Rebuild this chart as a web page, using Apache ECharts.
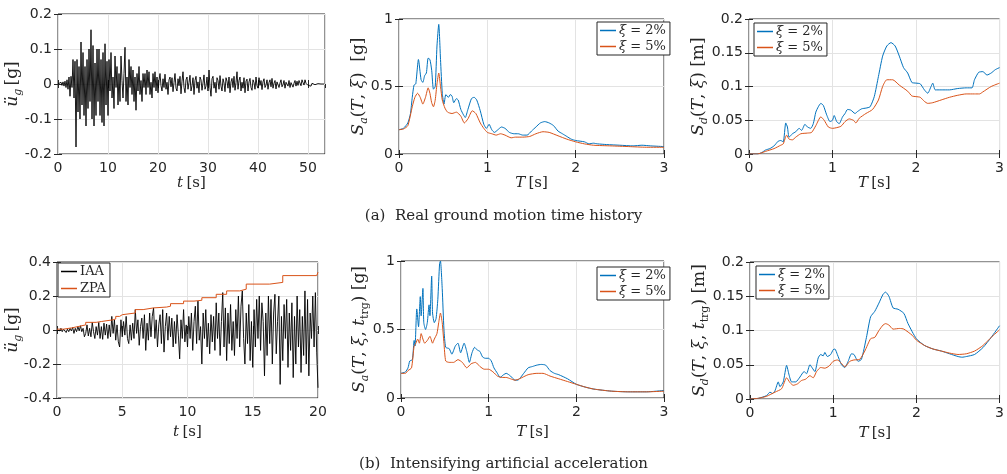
<!DOCTYPE html>
<html><head><meta charset="utf-8">
<script src="https://cdn.jsdelivr.net/npm/echarts@6/dist/echarts.min.js"></script>
<style>html,body{margin:0;padding:0;background:#fff}#c{width:1007px;height:474px}</style>
</head><body><div id="c"></div>
<script>
// ---------- DATA ----------
// (a) real ground motion, sampled every dtA seconds [g]
const dtA = 0.2;
const accA = [
0,0.003,-0.002,0.005,-0.004,0.006,-0.006,0.008,-0.01,0.012,
-0.015,0.02,-0.035,0.022,-0.01,0.07,-0.04,0.065,-0.18,0.07,
-0.08,0.05,-0.1,0.12,-0.06,0.09,-0.09,0.05,-0.12,0.07,
-0.07,0.1,-0.05,0.155,-0.1,0.11,-0.12,0.06,-0.09,0.1,
-0.05,0.1,-0.09,0.07,-0.11,0.09,-0.12,0.115,-0.06,0.065,
-0.09,0.07,-0.02,0.09,-0.04,0.02,-0.07,0.08,-0.01,0.05,
-0.06,0.03,-0.05,0.08,0.01,-0.04,0.03,0.105,-0.05,0.02,
-0.06,0.07,-0.01,0.05,-0.03,0.04,-0.05,0.02,-0.075,0.03,
-0.02,0.05,-0.03,0.01,-0.05,0.03,-0.01,0.03,-0.03,0.04,
-0.01,0.035,-0.03,0.005,-0.04,0.03,-0.01,0.035,-0.02,0.02,
-0.025,0.01,0.03,-0.005,-0.02,0.015,-0.01,0.028,-0.015,0.005,
-0.03,0.012,0.02,-0.008,0.018,-0.022,0.004,0.03,-0.012,-0.02,
0.015,-0.005,0.022,-0.028,0.008,0.035,-0.01,-0.025,0.012,0.02,
-0.015,0.004,0.025,-0.02,-0.005,0.018,-0.03,0.01,0.022,-0.012,
0.006,-0.025,0.02,0.012,-0.018,0.003,0.026,-0.015,-0.006,0.02,
-0.02,0.04,-0.01,-0.035,0.015,0.022,-0.012,0.005,-0.025,0.018,
0.01,-0.015,0.024,-0.006,-0.02,0.015,0.003,-0.022,0.018,0.008,
-0.012,0.02,-0.025,0.006,0.016,-0.01,0.022,-0.018,0.004,0.035,
-0.015,0.01,0.02,-0.02,0.005,-0.012,0.018,-0.025,0.008,0.014,
-0.02,0.006,0.016,-0.01,-0.018,0.012,0.004,-0.015,0.02,-0.005,
-0.012,0.018,-0.004,0.01,-0.016,0.006,0.015,-0.01,-0.003,0.012,
-0.015,0.004,0.012,-0.008,0.016,-0.012,0.002,0.01,-0.014,0.006,
0.008,-0.01,0.003,0.012,-0.008,-0.002,0.01,-0.012,0.005,0.008,
-0.006,0.01,-0.01,0.004,0.008,-0.009,0.002,0.01,-0.006,0.008,
-0.004,0.01,0.006,-0.005,0.012,0.004,-0.003,0.012,0.002,0.006,
-0.004,-0.009,-0.002,-0.006,0.002,-0.003,0.002,-0.002,0.002,-0.001,
0.001,-0.001,0.001,0,0,0,0
];
// (a) pseudo-acceleration spectra [g]
const saA_T2 = [0,0.05,0.1,0.13,0.15,0.17,0.19,0.22,0.25,0.27,0.29,0.31,0.33,0.35,0.37,0.39,0.41,0.43,0.45,0.47,0.49,0.51,0.53,0.56,0.58,0.6,0.62,0.65,0.67,0.7,0.73,0.75,0.78,0.82,0.85,0.88,0.92,0.96,0.99,1.02,1.05,1.08,1.12,1.16,1.2,1.25,1.3,1.35,1.4,1.45,1.5,1.55,1.6,1.65,1.7,1.75,1.8,1.85,1.9,1.95,2,2.1,2.15,2.2,2.25,2.35,2.5,2.65,2.75,2.85,3];
const saA_2  = [0.18,0.19,0.23,0.3,0.42,0.51,0.52,0.7,0.55,0.53,0.58,0.6,0.71,0.7,0.62,0.48,0.5,0.8,0.96,0.7,0.45,0.37,0.44,0.42,0.44,0.43,0.38,0.41,0.4,0.33,0.29,0.27,0.33,0.41,0.42,0.4,0.32,0.22,0.19,0.22,0.18,0.16,0.18,0.2,0.19,0.16,0.15,0.15,0.14,0.14,0.17,0.2,0.23,0.24,0.23,0.21,0.17,0.15,0.13,0.11,0.1,0.09,0.075,0.08,0.075,0.07,0.065,0.06,0.065,0.06,0.055];
const saA_T5 = [0,0.05,0.1,0.15,0.18,0.21,0.24,0.27,0.3,0.33,0.35,0.37,0.39,0.41,0.43,0.45,0.47,0.49,0.52,0.55,0.6,0.65,0.7,0.74,0.78,0.83,0.87,0.92,0.96,1,1.05,1.1,1.15,1.2,1.27,1.32,1.4,1.48,1.55,1.63,1.7,1.8,1.9,2,2.1,2.2,2.4,2.6,2.8,3];
const saA_5  = [0.18,0.185,0.21,0.35,0.42,0.45,0.42,0.37,0.42,0.49,0.45,0.38,0.35,0.4,0.52,0.6,0.5,0.4,0.34,0.31,0.3,0.31,0.28,0.23,0.26,0.32,0.3,0.23,0.19,0.16,0.15,0.14,0.15,0.14,0.12,0.125,0.125,0.13,0.15,0.165,0.16,0.135,0.11,0.09,0.075,0.065,0.06,0.055,0.05,0.05];
// (a) displacement spectra [m]
const sdA_T2 = [0,0.1,0.15,0.2,0.25,0.3,0.35,0.38,0.41,0.44,0.46,0.48,0.52,0.56,0.6,0.63,0.67,0.7,0.74,0.77,0.8,0.83,0.86,0.89,0.93,0.97,1,1.02,1.05,1.08,1.12,1.15,1.18,1.22,1.27,1.3,1.35,1.4,1.45,1.5,1.55,1.6,1.65,1.7,1.75,1.8,1.85,1.9,1.95,2,2.05,2.1,2.14,2.18,2.2,2.23,2.3,2.4,2.5,2.6,2.67,2.7,2.75,2.8,2.85,2.9,2.95,3];
const sdA_2  = [0,0,0.002,0.006,0.008,0.012,0.019,0.02,0.018,0.046,0.04,0.025,0.03,0.033,0.038,0.035,0.044,0.04,0.038,0.045,0.062,0.07,0.075,0.072,0.058,0.048,0.05,0.057,0.048,0.045,0.055,0.06,0.066,0.065,0.06,0.063,0.067,0.068,0.07,0.085,0.115,0.145,0.16,0.165,0.16,0.145,0.128,0.12,0.106,0.105,0.104,0.095,0.09,0.1,0.105,0.095,0.095,0.095,0.097,0.098,0.098,0.11,0.121,0.122,0.117,0.12,0.125,0.128];
const sdA_T5 = [0,0.1,0.2,0.3,0.38,0.41,0.45,0.48,0.52,0.56,0.62,0.7,0.75,0.8,0.86,0.9,0.95,1,1.1,1.15,1.2,1.25,1.28,1.32,1.4,1.48,1.55,1.6,1.65,1.72,1.8,1.9,1.95,2,2.05,2.1,2.14,2.2,2.3,2.4,2.5,2.6,2.7,2.76,2.8,2.9,3];
const sdA_5  = [0,0,0.004,0.008,0.013,0.015,0.028,0.022,0.021,0.025,0.03,0.031,0.032,0.042,0.055,0.05,0.04,0.038,0.041,0.048,0.052,0.05,0.046,0.053,0.06,0.066,0.08,0.1,0.11,0.11,0.102,0.093,0.086,0.085,0.084,0.078,0.075,0.076,0.08,0.084,0.087,0.089,0.089,0.089,0.092,0.1,0.105];

// (b) intensifying artificial acceleration, sampled every dtB seconds [g]
const dtB = 0.1;
const accB = [
0,0.005,-0.005,0.01,-0.01,0.005,0.01,-0.015,0.005,-0.01,
0.01,-0.005,0.015,-0.02,0.01,-0.01,0.02,-0.005,0.025,-0.01,
0.01,-0.04,-0.02,0.03,-0.035,0.01,-0.04,0.045,-0.01,-0.05,
0.02,-0.03,0.045,-0.05,0.02,-0.055,0.04,-0.03,0.035,-0.05,
0.03,-0.04,0.08,-0.02,0.06,-0.06,0.03,-0.07,-0.1,0.06,
-0.04,0.05,-0.03,0.08,-0.05,-0.08,0.03,-0.06,0.04,-0.05,
0.12,-0.02,0.06,-0.09,0.02,0.07,-0.05,0.09,-0.12,0.04,
-0.06,0.1,-0.04,0.08,0.13,-0.05,0.06,-0.1,0.03,0.09,
-0.08,0.12,-0.13,0.02,0.1,-0.06,0.08,-0.04,0.07,-0.1,
0.05,-0.08,0.09,-0.03,-0.17,0.06,-0.05,0.12,-0.07,0.03,
-0.1,0.08,-0.05,0.1,-0.12,0.05,0.14,-0.08,0.17,-0.06,
0.02,-0.2,0.1,-0.05,0.12,-0.1,0.04,-0.14,0.09,-0.07,
0.08,-0.12,0.16,-0.05,0.1,-0.15,0.05,0.22,-0.1,0.13,
-0.18,0.1,-0.08,0.15,-0.12,0.05,-0.15,0.12,-0.05,0.2,
-0.1,0.14,0.23,-0.05,-0.2,0.1,-0.08,0.15,-0.18,0.05,
-0.22,0.12,-0.1,0.18,-0.05,0.2,-0.12,0.16,0.05,-0.27,
0.1,-0.15,0.2,-0.08,0.18,-0.2,0.1,0.21,-0.14,0.05,
0.2,-0.32,0.08,-0.18,0.15,-0.05,0.18,-0.22,0.1,-0.12,
0.16,-0.28,0.08,-0.2,0.2,-0.1,0.12,-0.25,0.08,-0.15,
0.23,-0.2,0.18,-0.27,0.1,-0.05,0.2,-0.1,0.22,-0.13,
-0.34
];
// (b) zero-period acceleration envelope (step function)
const zpaT = [0,0.5,1.1,1.6,2.2,3.0,3.4,4.3,4.5,4.8,5.0,6.0,6.6,7.4,8.4,8.7,9.7,10.5,11.1,12.2,13.0,14.0,14.5,16.3,17.3,19.9,20];
const zpaV = [0.005,0.012,0.02,0.03,0.045,0.05,0.06,0.065,0.08,0.09,0.1,0.12,0.13,0.135,0.14,0.155,0.17,0.175,0.19,0.21,0.23,0.24,0.27,0.28,0.32,0.32,0.34];
// (b) pseudo-acceleration spectra [g]
const saB_T2 = [0,0.05,0.08,0.1,0.13,0.15,0.16,0.18,0.2,0.22,0.23,0.25,0.26,0.28,0.3,0.32,0.33,0.35,0.36,0.38,0.4,0.42,0.44,0.45,0.47,0.49,0.51,0.55,0.58,0.62,0.65,0.68,0.72,0.75,0.78,0.81,0.84,0.87,0.9,0.93,0.96,1,1.03,1.06,1.1,1.13,1.17,1.2,1.25,1.3,1.33,1.4,1.45,1.5,1.55,1.6,1.65,1.7,1.75,1.8,1.9,2,2.1,2.2,2.4,2.6,2.8,3];
const saB_2  = [0.18,0.19,0.22,0.27,0.28,0.42,0.38,0.65,0.52,0.74,0.6,0.8,0.55,0.5,0.55,0.68,0.6,0.89,0.62,0.55,0.58,0.72,0.98,1.0,0.8,0.5,0.37,0.36,0.32,0.38,0.4,0.33,0.4,0.34,0.26,0.33,0.37,0.35,0.34,0.3,0.29,0.29,0.27,0.22,0.18,0.15,0.17,0.18,0.16,0.13,0.13,0.18,0.22,0.23,0.24,0.245,0.24,0.2,0.18,0.17,0.14,0.1,0.08,0.065,0.05,0.045,0.045,0.055];
const saB_T5 = [0,0.05,0.08,0.12,0.15,0.17,0.19,0.21,0.23,0.25,0.27,0.3,0.33,0.36,0.38,0.41,0.43,0.45,0.47,0.49,0.51,0.55,0.6,0.65,0.7,0.75,0.8,0.85,0.9,0.95,1,1.05,1.1,1.15,1.2,1.25,1.3,1.35,1.45,1.55,1.62,1.7,1.8,1.9,2,2.1,2.2,2.4,2.6,2.8,3];
const saB_5  = [0.18,0.18,0.2,0.22,0.38,0.4,0.43,0.4,0.47,0.43,0.4,0.42,0.45,0.4,0.43,0.47,0.55,0.62,0.55,0.4,0.27,0.26,0.26,0.28,0.26,0.22,0.25,0.26,0.23,0.21,0.21,0.19,0.16,0.15,0.15,0.14,0.13,0.14,0.17,0.18,0.18,0.16,0.14,0.12,0.1,0.08,0.065,0.05,0.045,0.045,0.05];
// (b) displacement spectra [m]
const sdB_T2 = [0,0.1,0.2,0.24,0.27,0.3,0.34,0.36,0.4,0.44,0.47,0.5,0.55,0.6,0.65,0.68,0.72,0.75,0.78,0.82,0.85,0.88,0.9,0.93,0.97,1,1.02,1.05,1.1,1.14,1.18,1.22,1.25,1.3,1.34,1.4,1.45,1.5,1.55,1.6,1.63,1.67,1.72,1.78,1.85,1.9,2,2.1,2.2,2.3,2.4,2.5,2.55,2.6,2.7,2.8,2.9,3];
const sdB_2  = [0,0.001,0.005,0.01,0.008,0.012,0.025,0.018,0.025,0.049,0.035,0.025,0.025,0.032,0.04,0.037,0.05,0.045,0.04,0.06,0.065,0.063,0.068,0.062,0.065,0.072,0.073,0.065,0.05,0.046,0.055,0.066,0.065,0.055,0.058,0.09,0.12,0.128,0.14,0.153,0.156,0.15,0.133,0.131,0.125,0.11,0.088,0.078,0.073,0.07,0.066,0.062,0.061,0.062,0.065,0.075,0.09,0.107];
const sdB_T5 = [0,0.1,0.2,0.3,0.38,0.44,0.48,0.52,0.57,0.62,0.67,0.72,0.76,0.8,0.85,0.9,0.95,1,1.05,1.1,1.14,1.2,1.25,1.32,1.38,1.45,1.5,1.55,1.6,1.63,1.67,1.72,1.8,1.85,1.95,2,2.1,2.2,2.3,2.4,2.5,2.6,2.7,2.8,2.9,3];
const sdB_5  = [0,0.001,0.004,0.01,0.015,0.031,0.024,0.02,0.022,0.027,0.029,0.034,0.031,0.04,0.046,0.045,0.048,0.055,0.057,0.052,0.047,0.055,0.057,0.058,0.07,0.088,0.09,0.1,0.108,0.11,0.108,0.102,0.103,0.102,0.093,0.086,0.078,0.073,0.07,0.067,0.065,0.066,0.07,0.078,0.09,0.101];

// ---------- STYLE ----------
const BLUE = '#0072BD', ORANGE = '#D95319', INK = '#262626';
const MF = 'DejaVu Serif', TF = 'DejaVu Sans';
function mkRich(fs) {
  const sub = Math.round(fs * 0.66);
  return {
    i:  {fontFamily: MF, fontStyle: 'italic', fontSize: fs, lineHeight: fs + 5, color: INK, verticalAlign: 'middle'},
    r:  {fontFamily: MF, fontSize: fs, lineHeight: fs + 5, color: INK, verticalAlign: 'middle'},
    s:  {fontFamily: MF, fontStyle: 'italic', fontSize: sub, lineHeight: sub, padding: [Math.round(fs * 0.66), 0, 0, 0], color: INK, verticalAlign: 'top'},
    sr: {fontFamily: MF, fontSize: sub, lineHeight: sub, padding: [Math.round(fs * 0.66), 0, 0, 0], color: INK, verticalAlign: 'top'}
  };
}
const richX = mkRich(15), richY = mkRich(17);
const pair = (T, V) => T.map((t, k) => [t, V[k]]);
const grids = [
  {left: 58,  top: 14,  width: 267, height: 140},
  {left: 399, top: 19,  width: 265, height: 135},
  {left: 749, top: 19,  width: 256, height: 135},
  {left: 57,  top: 262, width: 261, height: 136},
  {left: 401, top: 261, width: 263, height: 137},
  {left: 750, top: 262, width: 255, height: 137}
].map(g => Object.assign({show: true, borderColor: INK, borderWidth: 1, backgroundColor: '#fff'}, g));

const xSpec = [[0, 53.4, 10, '{i|t} {r|[s]}', 19], [0, 3, 1, '{i|T} {r|[s]}', 19], [0, 3, 1, '{i|T} {r|[s]}', 19],
               [0, 20, 5, '{i|t} {r|[s]}', 24], [0, 3, 1, '{i|T} {r|[s]}', 24], [0, 3, 1, '{i|T} {r|[s]}', 24]];
const ySpec = [[-0.2, 0.2, 0.1, '{i|ü}{s|g} {r|[g]}', 34],
               [0, 1, 0.5, '{i|S}{s|a}{r|(}{i|T}{r|, }{i|ξ}{r|)  [g]}', 29],
               [0, 0.2, 0.05, '{i|S}{s|d}{r|(}{i|T}{r|, }{i|ξ}{r|) [m]}', 39],
               [-0.4, 0.4, 0.2, '{i|ü}{s|g} {r|[g]}', 33],
               [0, 1, 0.5, '{i|S}{s|a}{r|(}{i|T}{r|, }{i|ξ}{r|, }{i|t}{sr|trg}{r|) [g]}', 30],
               [0, 0.2, 0.05, '{i|S}{s|d}{r|(}{i|T}{r|, }{i|ξ}{r|, }{i|t}{sr|trg}{r|) [m]}', 39]];
const tick = {inside: true, length: 4, lineStyle: {color: INK}};
const split = {lineStyle: {color: '#e3e3e3', width: 1}};
const xAxes = [], yAxes = [];
xSpec.forEach(([min, max, interval, name, gap], gi) => {
  xAxes.push({type: 'value', gridIndex: gi, min, max, interval,
    name, nameLocation: 'middle', nameGap: gap, nameTextStyle: {rich: richX},
    axisLine: {show: false}, axisTick: tick,
    axisLabel: {color: INK, fontFamily: TF, fontSize: 14, margin: 7, showMaxLabel: max % interval === 0},
    splitLine: split});
});
ySpec.forEach(([min, max, interval, name, gap], gi) => {
  yAxes.push({type: 'value', gridIndex: gi, min, max, interval,
    name, nameLocation: 'middle', nameGap: gap, nameRotate: 90, nameMoveOverlap: false, nameTextStyle: {rich: richY},
    axisLine: {show: false}, axisTick: tick,
    axisLabel: {color: INK, fontFamily: TF, fontSize: 14, margin: 6},
    splitLine: split});
});
// mirror ticks on top / right edges (MATLAB box style)
xSpec.forEach(([min, max, interval], gi) => {
  xAxes.push({type: 'value', gridIndex: gi, position: 'top', min, max, interval,
    axisLine: {show: false}, axisTick: tick, axisLabel: {show: false}, splitLine: {show: false}});
});
ySpec.forEach(([min, max, interval], gi) => {
  yAxes.push({type: 'value', gridIndex: gi, position: 'right', min, max, interval,
    axisLine: {show: false}, axisTick: tick, axisLabel: {show: false}, splitLine: {show: false}});
});

function ln(name, gi, data, color, extra) {
  return Object.assign({type: 'line', name, xAxisIndex: gi, yAxisIndex: gi, data,
    symbol: 'none', showSymbol: false, smooth: false, animation: false,
    lineStyle: {color, width: 1}, itemStyle: {color}, emphasis: {disabled: true}}, extra || {});
}
const legRich = {
  i: {fontFamily: MF, fontStyle: 'italic', fontSize: 13, color: INK},
  r: {fontFamily: MF, fontSize: 13, color: INK}
};
function leg(left, top, data, gap) {
  return {left, top, orient: 'vertical', data, icon: 'rect', itemWidth: 16, itemHeight: 1.5, itemGap: gap,
    padding: [2, 4, 2, 3], backgroundColor: '#fff', borderColor: INK, borderWidth: 1, borderRadius: 0,
    selectedMode: false,
    textStyle: {rich: legRich, padding: [0, 0, 0, -2]},
    formatter: n => n === 'xi2' ? '{i|ξ}{r| = 2%}' : n === 'xi5' ? '{i|ξ}{r| = 5%}' : '{r|' + n + '}'};
}
const SM = {smooth: 0.2};

const option = {
  animation: false,
  backgroundColor: '#fff',
  grid: grids,
  xAxis: xAxes,
  yAxis: yAxes,
  legend: [
    leg(597, 22, ['xi2', 'xi5'], 3),
    leg(754, 23, ['xi2', 'xi5'], 3),
    leg(58, 263, ['IAA', 'ZPA'], 4),
    leg(597, 267, ['xi2', 'xi5'], 3),
    leg(756, 266, ['xi2', 'xi5'], 3)
  ],
  series: [
    ln('acc', 0, accA.map((v, k) => [k * dtA, v]), '#000', {lineStyle: {color: '#000', width: 0.9}}),
    ln('xi2', 1, pair(saA_T2, saA_2), BLUE, SM),
    ln('xi5', 1, pair(saA_T5, saA_5), ORANGE, SM),
    ln('xi2', 2, pair(sdA_T2, sdA_2), BLUE, SM),
    ln('xi5', 2, pair(sdA_T5, sdA_5), ORANGE, SM),
    ln('IAA', 3, accB.map((v, k) => [k * dtB, v]), '#000', {lineStyle: {color: '#000', width: 0.9}}),
    ln('ZPA', 3, pair(zpaT, zpaV), ORANGE, {step: 'end'}),
    ln('xi2', 4, pair(saB_T2, saB_2), BLUE, SM),
    ln('xi5', 4, pair(saB_T5, saB_5), ORANGE, SM),
    ln('xi2', 5, pair(sdB_T2, sdB_2), BLUE, SM),
    ln('xi5', 5, pair(sdB_T5, sdB_5), ORANGE, SM)
  ],
  graphic: [
    {type: 'text', left: 'center', top: 209, style: {text: '(a)  Real ground motion time history', font: '15px "DejaVu Serif"', fill: INK}},
    {type: 'text', left: 'center', top: 457, style: {text: '(b)  Intensifying artificial acceleration', font: '15px "DejaVu Serif"', fill: INK}}
  ]
};
const chart = echarts.init(document.getElementById('c'), null, {renderer: 'canvas'});
chart.setOption(option);
</script></body></html>
